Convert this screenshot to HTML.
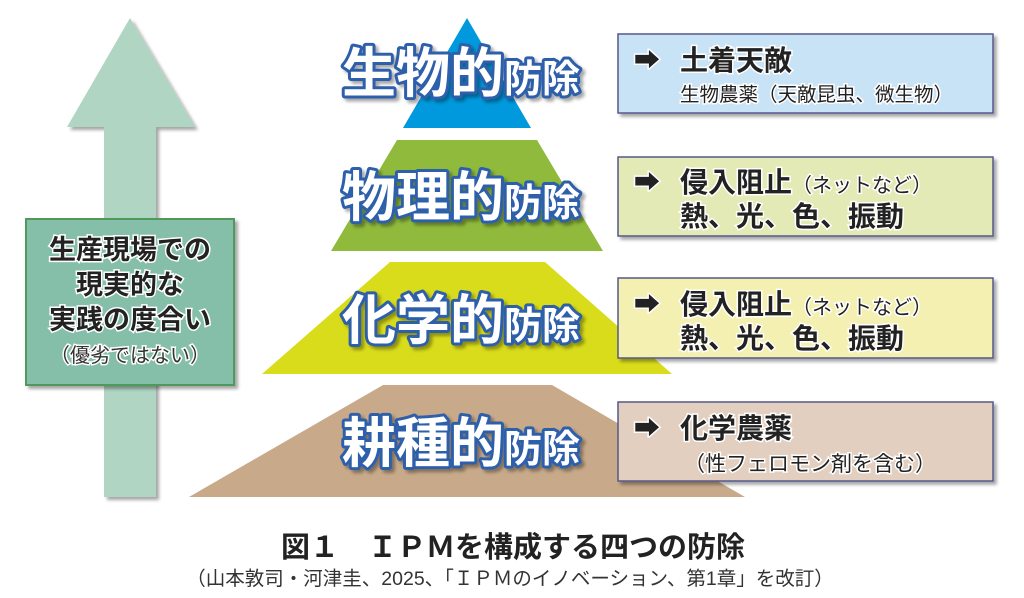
<!DOCTYPE html>
<html><head><meta charset="utf-8"><style>
html,body{margin:0;padding:0;background:#fff;}
svg{display:block;}
text{font-family:"Liberation Sans","Noto Sans CJK JP",sans-serif;}
</style></head><body>
<svg width="1024" height="598" viewBox="0 0 1024 598" xmlns="http://www.w3.org/2000/svg">
<defs>
<filter id="sh" x="-10%" y="-10%" width="130%" height="130%"><feDropShadow dx="3" dy="3" stdDeviation="1.5" flood-color="#000" flood-opacity="0.35"/></filter>
</defs>
<polygon points="130,18 195,127 156,127 156,497 104,497 104,127 67,127" fill="#b1d5c3" filter="url(#sh)"/>
<rect x="26" y="219" width="208" height="166" fill="#85bfa9" stroke="#4f9a5a" stroke-width="2" filter="url(#sh)"/>
<g font-weight="bold" font-size="27" fill="#222" text-anchor="middle" stroke="#fff" stroke-width="3" paint-order="stroke">
<text x="130" y="259">生産現場での</text>
<text x="130" y="294">現実的な</text>
<text x="130" y="329">実践の度合い</text>
</g>
<text x="130" y="362" font-size="20" fill="#333" text-anchor="middle" stroke="#fff" stroke-width="3" paint-order="stroke">（優劣ではない）</text>
<polygon points="467,18 531,128 403,128" fill="#0099dd"/>
<polygon points="397,140 537,140 603,251 331,251" fill="#8fba3c"/>
<polygon points="390,262 545,262 672,374 262,374" fill="#d9dc1a"/>
<polygon points="383,385 552,385 745,497 189,497" fill="#c8aa8a"/>
<g font-weight="bold" fill="#fff" stroke="#2d5faa" stroke-width="6" paint-order="stroke" stroke-linejoin="round" filter="url(#sh)">
<text x="342" y="92"><tspan font-size="54">生物的</tspan><tspan font-size="38">防除</tspan></text>
<text x="342" y="216"><tspan font-size="54">物理的</tspan><tspan font-size="38">防除</tspan></text>
<text x="342" y="339"><tspan font-size="54">化学的</tspan><tspan font-size="38">防除</tspan></text>
<text x="342" y="462"><tspan font-size="54">耕種的</tspan><tspan font-size="38">防除</tspan></text>
</g>
<g stroke="#55588a" stroke-width="1.5" filter="url(#sh)">
<rect x="618" y="34" width="375" height="79" fill="#c8e2f6"/>
<rect x="618" y="157" width="375" height="79" fill="#e4eab6"/>
<rect x="618" y="278" width="375" height="80" fill="#f4f0b2"/>
<rect x="618" y="402" width="375" height="79" fill="#e3cfc0"/>
</g>
<g fill="#222" stroke="#fff" stroke-width="3" paint-order="stroke">
<text x="634" y="69" font-size="26" font-weight="bold">➡</text>
<text x="680" y="70" font-size="28" font-weight="bold">土着天敵</text>
<text x="680" y="101" font-size="19.5">生物農薬（天敵昆虫、微生物）</text>
<text x="634" y="191" font-size="26" font-weight="bold">➡</text>
<text x="680" y="192"><tspan font-size="28" font-weight="bold">侵入阻止</tspan><tspan font-size="20">（ネットなど）</tspan></text>
<text x="680" y="226" font-size="28" font-weight="bold">熱、光、色、振動</text>
<text x="634" y="313" font-size="26" font-weight="bold">➡</text>
<text x="680" y="314"><tspan font-size="28" font-weight="bold">侵入阻止</tspan><tspan font-size="20">（ネットなど）</tspan></text>
<text x="680" y="348" font-size="28" font-weight="bold">熱、光、色、振動</text>
<text x="634" y="437" font-size="26" font-weight="bold">➡</text>
<text x="680" y="438" font-size="28" font-weight="bold">化学農薬</text>
<text x="684" y="471" font-size="21">（性フェロモン剤を含む）</text>
</g>
<text x="513" y="557" font-size="29" font-weight="bold" fill="#222" text-anchor="middle">図１　ＩＰＭを構成する四つの防除</text>
<text x="510" y="585" font-size="19.5" fill="#333" text-anchor="middle">（山本敦司・河津圭、2025、「ＩＰＭのイノベーション、第1章」を改訂）</text>
</svg>
</body></html>
